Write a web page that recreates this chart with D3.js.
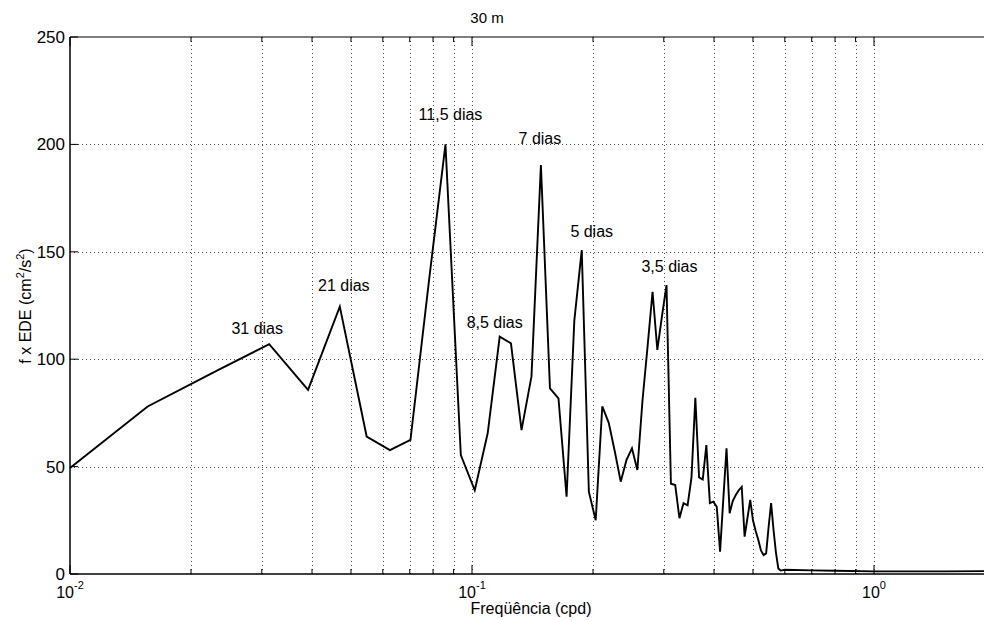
<!DOCTYPE html>
<html>
<head>
<meta charset="utf-8">
<script src="https://cdn.jsdelivr.net/npm/d3@7"></script>
<style>
  body { margin: 0; background: #fff; }
  text { font-family: "Liberation Sans", Arial, Helvetica, sans-serif; fill: #000; }
</style>
</head>
<body>
<div id="chart"></div>
<script>
// frequency (cpd) and f x EDE (cm2/s2)
const freq = [0.01, 0.0156, 0.0234, 0.0313, 0.0391, 0.0469, 0.0547, 0.0625, 0.0703, 0.0781,
    0.0859, 0.0938, 0.1016, 0.1094, 0.1172, 0.125, 0.1328, 0.1406, 0.1484, 0.1563,
    0.1641, 0.1719, 0.1797, 0.1875, 0.1953, 0.2031, 0.2109, 0.2188, 0.2266, 0.2344,
    0.2422, 0.25, 0.2578, 0.2656, 0.2734, 0.2813, 0.2891, 0.2969, 0.3047, 0.3125,
    0.3203, 0.3281, 0.3359, 0.3438, 0.3516, 0.3594, 0.3672, 0.375, 0.3828, 0.3906,
    0.3984, 0.4063, 0.4141, 0.4219, 0.4297, 0.4375, 0.4453, 0.4531, 0.4609, 0.4688,
    0.4766, 0.4844, 0.4922, 0.5, 0.5078, 0.5156, 0.5234, 0.5313, 0.5391, 0.5469,
    0.5547, 0.5625, 0.5703, 0.5781, 0.5859, 0.6, 0.7, 0.8, 1.0, 1.5, 2.0];
const ede = [49.3, 78, 95, 107, 85.7, 124.5, 64, 57.7, 62.4, 136,
    200, 55.4, 39, 65.5, 110.5, 107.4, 67, 92, 190.4, 86.4,
    81.8, 36, 118, 150.8, 38.3, 25, 78, 70.5, 57, 43,
    53, 58.5, 48.4, 81, 106, 131.4, 104.3, 120, 134.5, 42,
    41.4, 26, 33, 32, 45, 82, 45, 44, 60, 33,
    33.7, 31.3, 10.4, 35, 58.5, 28.3, 34, 36.8, 39, 40.6,
    17.4, 26, 34.5, 25, 20, 15.8, 11, 8.8, 9.6, 22,
    33, 20.5, 10, 2.6, 1.6, 2.0, 1.7, 1.5, 1.2, 1.2, 1.4];

const peakLabels = ['31 dias', '21 dias', '11,5 dias', '8,5 dias', '7 dias', '5 dias', '3,5 dias'];
const peakFreq = [0.0313, 0.0469, 0.0859, 0.1172, 0.1484, 0.1875, 0.3047];
const peakValue = [107, 124.5, 200, 110.5, 190.4, 150.8, 134.5];

const yTicks = [0, 50, 100, 150, 200, 250];
const xDecades = [0.01, 0.1, 1];
const xDecadeExp = ['-2', '-1', '0'];

const width = 984, height = 621;
const margin = { left: 70, top: 37, bottom: 47 };
const svg = d3.select('#chart').append('svg').attr('width', width).attr('height', height);

const x = d3.scaleLog().domain([0.01, 2]).range([margin.left, 995]);
const y = d3.scaleLinear().domain([0, 250]).range([height - margin.bottom, margin.top]);
const y0 = y(0), y1 = y(250);

const allX = x.ticks().filter(t => t > 0.01 && t <= 2);
const minorX = allX.filter(t => !xDecades.includes(t));

// grid
const grid = svg.append('g').attr('stroke', '#444').attr('stroke-width', 1).attr('stroke-dasharray', '1,3');
grid.selectAll('line.v').data(allX).enter().append('line')
    .attr('x1', d => Math.round(x(d)) + 0.5).attr('x2', d => Math.round(x(d)) + 0.5)
    .attr('y1', y1).attr('y2', y0);
grid.selectAll('line.h').data(yTicks.filter(t => t > 0 && t < 250)).enter().append('line')
    .attr('x1', x(0.01)).attr('x2', 995)
    .attr('y1', d => Math.round(y(d)) + 0.5).attr('y2', d => Math.round(y(d)) + 0.5);

// axes frame + ticks
const axes = svg.append('g').attr('stroke', '#000');
axes.append('line').attr('x1', x(0.01)).attr('x2', 995).attr('y1', y0).attr('y2', y0).attr('stroke-width', 1.5);
axes.append('line').attr('x1', x(0.01)).attr('x2', 995).attr('y1', y1).attr('y2', y1).attr('stroke-width', 1.2);
axes.append('line').attr('x1', x(0.01)).attr('x2', x(0.01)).attr('y1', y1).attr('y2', y0).attr('stroke-width', 1.5);

const tickSet = [...xDecades.map(d => ({ v: d, len: 9 })), ...minorX.map(d => ({ v: d, len: 5 }))];
axes.selectAll('line.tb').data(tickSet).enter().append('line')
    .attr('x1', d => x(d.v)).attr('x2', d => x(d.v))
    .attr('y1', y0).attr('y2', d => y0 - d.len);
axes.selectAll('line.tt').data(tickSet).enter().append('line')
    .attr('x1', d => x(d.v)).attr('x2', d => x(d.v))
    .attr('y1', y1).attr('y2', d => y1 + d.len);
axes.selectAll('line.ty').data(yTicks).enter().append('line')
    .attr('x1', x(0.01)).attr('x2', x(0.01) + 8)
    .attr('y1', d => y(d)).attr('y2', d => y(d));

// y tick labels
svg.append('g').selectAll('text').data(yTicks).enter().append('text')
    .attr('x', x(0.01) - 5).attr('y', d => y(d) + 6)
    .attr('text-anchor', 'end').attr('font-size', 17)
    .text(d => d);

// x tick labels 10^n
const xl = svg.append('g').selectAll('text').data(xDecades).enter().append('text')
    .attr('x', d => x(d)).attr('y', y0 + 24)
    .attr('text-anchor', 'middle').attr('font-size', 16);
xl.append('tspan').text('10');
xl.append('tspan').attr('dy', -9).attr('font-size', 11).text((d, i) => xDecadeExp[i]);

// title and axis labels
svg.append('text').attr('x', 487).attr('y', 23).attr('text-anchor', 'middle').attr('font-size', 15).text('30 m');
svg.append('text').attr('x', 531).attr('y', 614).attr('text-anchor', 'middle').attr('font-size', 16).text('Freqüência (cpd)');
const yl = svg.append('text').attr('transform', 'translate(31,306) rotate(-90)')
    .attr('text-anchor', 'middle').attr('font-size', 16);
yl.append('tspan').text('f x EDE (cm');
yl.append('tspan').attr('dy', -7).attr('font-size', 11).text('2');
yl.append('tspan').attr('dy', 7).text('/s');
yl.append('tspan').attr('dy', -7).attr('font-size', 11).text('2');
yl.append('tspan').attr('dy', 7).text(')');

// spectrum line
const line = d3.line().x(d => x(d[0])).y(d => y(d[1]));
svg.append('path').datum(freq.map((f, i) => [f, ede[i]]))
    .attr('d', line).attr('fill', 'none').attr('stroke', '#000')
    .attr('stroke-width', 1.9).attr('stroke-linejoin', 'miter');

// peak annotations (offset in px from each peak: dx, dy above)
const labelOffset = [[-12, 10], [4, 16], [5, 24], [-5, 9], [-1, 21], [10, 13], [3, 13]];
svg.append('g').selectAll('text').data(peakLabels).enter().append('text')
    .attr('x', (d, i) => x(peakFreq[i]) + labelOffset[i][0])
    .attr('y', (d, i) => y(peakValue[i]) - labelOffset[i][1])
    .attr('text-anchor', 'middle').attr('font-size', 16)
    .text(d => d);
</script>
</body>
</html>
